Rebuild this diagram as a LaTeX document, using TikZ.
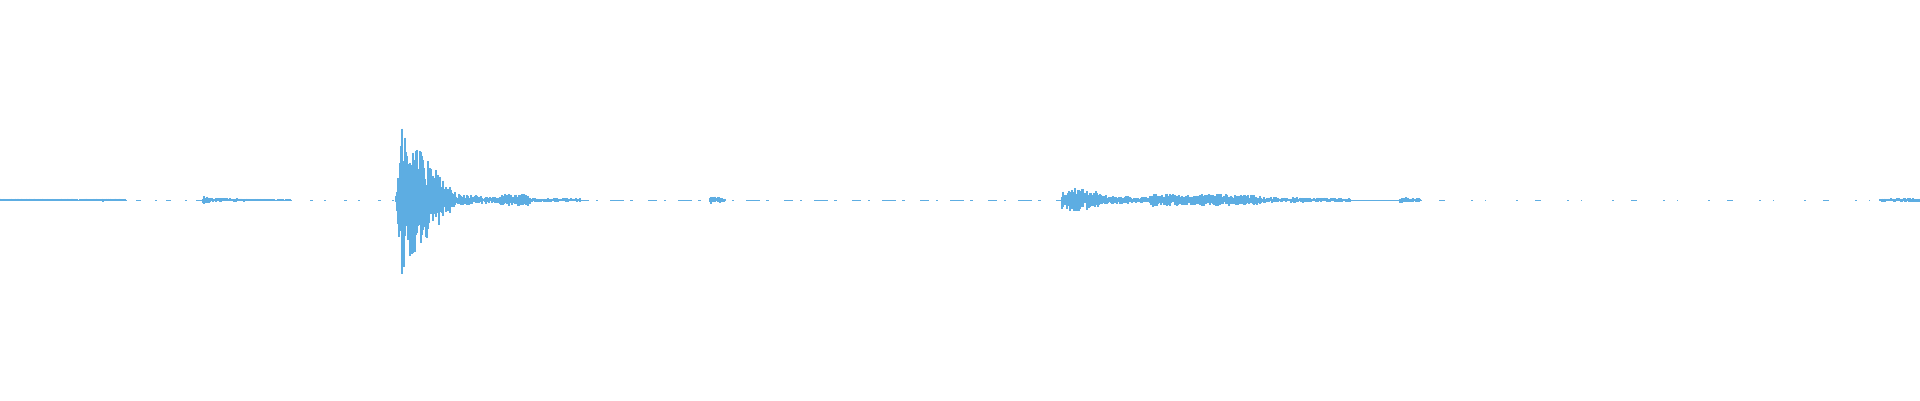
\documentclass[tikz,border=0pt]{standalone}
\definecolor{wave}{RGB}{93,173,226}
\begin{document}
\begin{tikzpicture}[x=1pt,y=1pt,
bar/.style={wave,line width=1.1pt},
base/.style={wave,line width=1pt}
]
\pgfmathsetseed{7}
\useasboundingbox (0,0) rectangle (1920,400);
%% quiet stretches of the line
\draw[base](0,200)--(1920,200);
\fill[white](125,198) rectangle (200,202);
\fill[white](290,198) rectangle (395,202);
\fill[white](580,198) rectangle (1060,202);
\fill[white](1420,198) rectangle (1880,202);
\draw[base,dash pattern=on 2pt off 9pt on 5pt off 14pt](125,200)--(200,200);
\draw[base,dash pattern=on 2pt off 18pt on 3pt off 11pt](290,200)--(395,200);
\draw[base,dash pattern=on 9pt off 7pt on 2pt off 12pt on 14pt off 6pt on 3pt off 15pt](580,200)--(1060,200);
\draw[base,dash pattern=on 2pt off 17pt on 6pt off 26pt on 2pt off 12pt on 1pt off 30pt](1420,200)--(1880,200);
%% bursts
\foreach \a/\b/\p/\q in {0/125/1.5/1.5, 203/210/4/3, 210/290/2/1,
  396/402/6/76, 402/428/70/45, 428/455/40/10, 455/500/6/3, 500/530/7/6, 530/580/2/2,
  710/725/4/2, 1062/1075/9/13, 1075/1100/12/9, 1100/1130/5/4, 1130/1150/3/3,
  1150/1200/7/5, 1200/1260/7/5, 1260/1350/3/2, 1400/1420/3/2, 1880/1920/2/2}{
  \foreach \x in {\a,...,\b}{
    \pgfmathsetmacro{\amp}{\p+(\q-\p)*(\x-\a)/(\b-\a+0.001)}
    \pgfmathsetmacro{\up}{\amp*(0.25+0.75*rnd)}
    \pgfmathsetmacro{\dn}{\amp*(0.25+0.75*rnd)}
    \draw[bar](\x,200+\up)--(\x,200-\dn);
  }
}
\end{tikzpicture}
\end{document}
